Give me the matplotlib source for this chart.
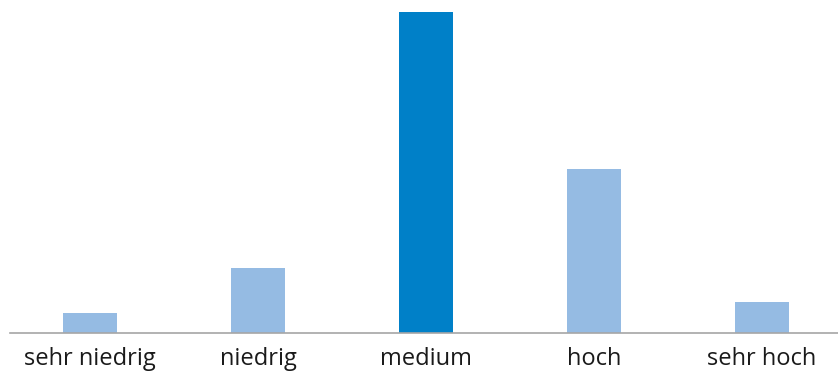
import numpy as np
import matplotlib.pyplot as plt

# values (relative heights)
categories = ['sehr niedrig', 'niedrig', 'medium', 'hoch', 'sehr hoch']
values = [6.2, 20.4, 100.0, 51.1, 9.8]
highlight = 'medium'

light_blue = '#95bbe3'
dark_blue = '#0080c8'

fig = plt.figure(figsize=(8.38, 3.74), dpi=100)
ax = fig.add_axes([10/838, 41/374, 828/838, 321/374])

x = np.arange(len(categories))
colors = [dark_blue if c == highlight else light_blue for c in categories]
ax.bar(x, values, width=0.32, color=colors, zorder=2)

ax.set_xlim(-0.476, 4.452)
ax.set_ylim(0, max(values))
ax.set_yticks([])
ax.set_xticks(x)
ax.set_xticklabels(categories, fontsize=17, family='Open Sans', color='#1a1a1a')
ax.tick_params(axis='x', length=0, pad=10)

for s in ['top', 'right', 'left']:
    ax.spines[s].set_visible(False)
ax.spines['bottom'].set_color('#a6a6a6')
ax.spines['bottom'].set_linewidth(1.2)

fig.savefig('out.png', dpi=100)
